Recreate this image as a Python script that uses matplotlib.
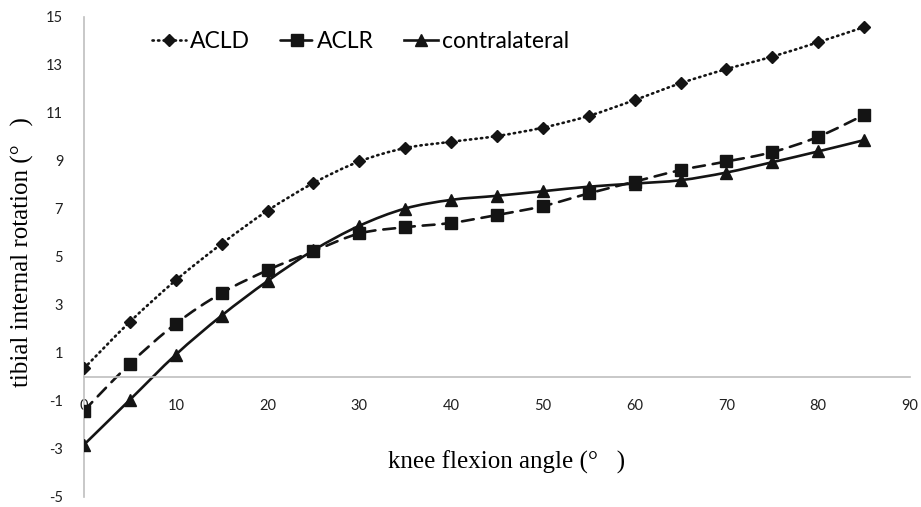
import numpy as np
import matplotlib.pyplot as plt
from matplotlib.path import Path
from matplotlib.patches import PathPatch
from matplotlib.lines import Line2D

plt.rcParams['axes.unicode_minus'] = False

# knee flexion angles and tibial internal rotation per group
angles = [0, 5, 10, 15, 20, 25, 30, 35, 40, 45, 50, 55, 60, 65, 70, 75, 80, 85]
acld = [0.36, 2.3, 4.03, 5.55, 6.93, 8.08, 8.98, 9.54, 9.8, 10.04, 10.39, 10.88,
        11.54, 12.24, 12.83, 13.35, 13.95, 14.58]
aclr = [-1.4, 0.55, 2.22, 3.5, 4.45, 5.24, 5.98, 6.24, 6.42, 6.75, 7.12, 7.65,
        8.14, 8.62, 8.98, 9.37, 10.01, 10.92]
contra = [-2.82, -0.95, 0.93, 2.56, 4.0, 5.28, 6.3, 7.02, 7.38, 7.55, 7.74, 7.93,
          8.06, 8.2, 8.52, 8.95, 9.4, 9.87]

xticks = list(range(0, 91, 10))
yticks = list(range(-5, 16, 2))

col = '#141414'


def smooth_path(x, y):
    # excel-like smoothed line (catmull-rom as cubic bezier)
    pts = np.column_stack([x, y]).astype(float)
    n = len(pts)
    verts = [pts[0]]
    codes = [Path.MOVETO]
    for i in range(n - 1):
        p0 = pts[max(i - 1, 0)]
        p1 = pts[i]
        p2 = pts[i + 1]
        p3 = pts[min(i + 2, n - 1)]
        verts += [p1 + (p2 - p0) / 6, p2 - (p3 - p1) / 6, p2]
        codes += [Path.CURVE4] * 3
    return Path(verts, codes)


fig = plt.figure(figsize=(9.21, 5.07), dpi=100)
ax = fig.add_axes([84 / 921, 1 - 497 / 507, 826 / 921, 480 / 507])
ax.set_xlim(0, 90)
ax.set_ylim(-5, 15)

series = [
    (acld, 'ACLD', (0, (0.5, 1.6)), 'D', 6.5),
    (aclr, 'ACLR', (0, (4.5, 3)), 's', 8.5),
    (contra, 'contralateral', '-', '^', 8.5),
]
handles = []
for vals, name, ls, mk, ms in series:
    patch = PathPatch(smooth_path(angles, vals), fill=False, edgecolor=col,
                      lw=1.9, linestyle=ls, capstyle='round', zorder=2)
    ax.add_patch(patch)
    ax.plot(angles, vals, linestyle='none', marker=mk, ms=ms, color=col, zorder=3)
    handles.append(Line2D([], [], color=col, lw=1.9, linestyle=ls,
                          marker=mk, ms=ms, dash_capstyle='round'))

# axes: vertical at x=0, horizontal crossing at y=0
for s in ['top', 'right']:
    ax.spines[s].set_visible(False)
ax.spines['left'].set_position(('data', 0))
ax.spines['bottom'].set_position(('data', 0))
ax.spines['left'].set_color('#bfbfbf')
ax.spines['bottom'].set_color('#bfbfbf')
ax.spines['left'].set_linewidth(1.2)
ax.spines['bottom'].set_linewidth(1.2)

ax.set_yticks(yticks)
ax.set_xticks(xticks)
ax.tick_params(length=0, labelsize=10.5, labelcolor='#202020')
ax.tick_params(axis='y', pad=15)
ax.tick_params(axis='x', pad=16)
for lab in ax.get_xticklabels() + ax.get_yticklabels():
    lab.set_fontfamily('Lato')

fig.text(507 / 921, 1 - 462 / 507, 'knee flexion angle (°   )', ha='center',
         va='center', fontsize=18, family='Liberation Serif')
fig.text(22 / 921, 1 - 252 / 507, 'tibial internal rotation (°   )', ha='center',
         va='center', rotation=90, fontsize=18, family='Liberation Serif')

fig.legend(handles, [s[1] for s in series], loc='center left',
           bbox_to_anchor=(152 / 921, 1 - 42 / 507), ncol=3, frameon=False,
           prop={'family': 'Lato', 'size': 16.5}, handlelength=1.5,
           handletextpad=0.15, columnspacing=1.3, borderpad=0, borderaxespad=0)

fig.savefig('out.png', dpi=100)
